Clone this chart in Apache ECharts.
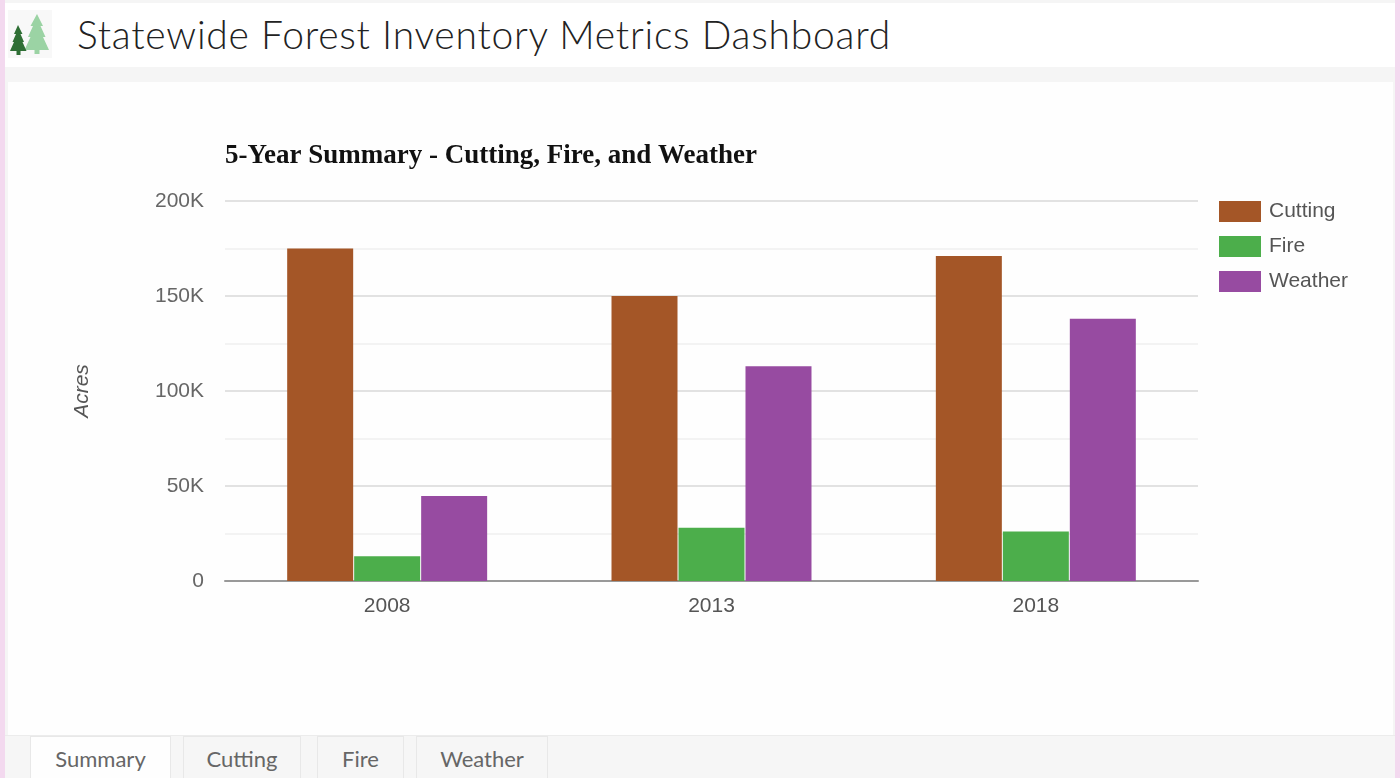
<!DOCTYPE html>
<html><head><meta charset="utf-8">
<script src="https://cdn.jsdelivr.net/npm/echarts@6/dist/echarts.min.js"></script>
<style>
html,body{margin:0;padding:0;width:1400px;height:778px;overflow:hidden;background:#f3d9ef;}
#shell{position:absolute;left:5px;top:0;width:1390px;height:778px;background:#f5f5f5;}
#header{position:absolute;left:0;top:3px;width:1390px;height:64px;background:#fff;}
#logo{position:absolute;left:3px;top:7px;width:44px;height:48px;background:#f8f8f8;}
#headline{position:absolute;left:72px;top:7px;font:300 39px/48px Lato,sans-serif;color:#222;white-space:nowrap;letter-spacing:.76px;}
#panel{position:absolute;left:3px;top:82px;width:1385px;height:653px;background:#fefefe;}
#chart{position:absolute;left:0;top:0;width:1400px;height:778px;}
#tabs{position:absolute;left:0;top:735px;width:1390px;height:43px;background:#f6f6f6;border-top:1px solid #ececec;box-sizing:border-box;}
.tab{position:absolute;top:0;height:43px;box-sizing:border-box;border:1px solid #e8e8e8;border-bottom:none;font:22px/44px Lato,sans-serif;color:#666;text-align:center;background:#f6f6f6;}
.tab.on{background:#fefefe;}
</style></head><body>
<div id="shell">
 <div id="header">
  <div id="logo"><svg width="44" height="48" viewBox="0 0 44 48">
   <path fill="#9bd3a4" d="M29 4l6 12h-2.500l5 11h-2.500l6 13h-9.500v4h-5v-4h-10l6-13h-2.500l5-11h-2.500z"/>
   <path fill="#2f6f35" d="M10 15l4.500 9h-2l3.500 8h-1.500l4 9h-6v4h-4v-4h-6.500l4-9h-1.500l3.500-8h-2z"/>
  </svg></div>
  <div id="headline"></div>
 </div>
 <div id="panel"></div>
 <div id="tabs"></div>
</div>
<div id="chart"></div>
<script>
const pageTitle = 'Statewide Forest Inventory Metrics Dashboard';
const chartTitle = '5-Year Summary - Cutting, Fire, and Weather';
const categories = ['2008', '2013', '2018'];
const cutting = [175000, 150000, 171000];
const fire = [13000, 28000, 26000];
const weather = [44700, 113000, 138000];
const yAxisName = 'Acres';
const tabNames = ['Summary', 'Cutting', 'Fire', 'Weather'];
const tabLefts = [25, 178, 312, 411];
const tabWidths = [141, 118, 87, 132];

document.getElementById('headline').textContent = pageTitle;
const tabs = document.getElementById('tabs');
tabNames.forEach((n, i) => {
  const d = document.createElement('div');
  d.className = 'tab' + (i === 0 ? ' on' : '');
  d.style.left = tabLefts[i] + 'px';
  d.style.width = tabWidths[i] + 'px';
  d.textContent = n;
  tabs.appendChild(d);
});

const chart = echarts.init(document.getElementById('chart'), null, {renderer: 'canvas'});
const mk = (name, data, c) => ({name, type: 'bar', data, barWidth: 66, barGap: '1.500%', itemStyle: {color: c}});
chart.setOption({
  backgroundColor: 'transparent',
  animation: false,
  title: {text: chartTitle, left: 220, top: 138,
    textStyle: {fontFamily: '"Liberation Serif", serif', fontWeight: 'bold', fontSize: 27, color: '#111'}},
  legend: {
    orient: 'vertical', left: 1214, top: 196, itemWidth: 42, itemHeight: 21, itemGap: 14,
    icon: 'rect', data: ['Cutting', 'Fire', 'Weather'],
    textStyle: {fontFamily: '"Liberation Sans", sans-serif', fontSize: 21, color: '#555', padding: [2, 0, 0, 3]}
  },
  grid: {left: 225, right: 202, top: 201, bottom: 197},
  xAxis: {
    type: 'category', data: categories,
    axisLine: {lineStyle: {color: '#999', width: 2}},
    axisTick: {show: false},
    axisLabel: {fontFamily: '"Liberation Sans", sans-serif', fontSize: 21, color: '#555', margin: 15}
  },
  yAxis: {
    type: 'value', min: 0, max: 200000, interval: 50000,
    name: yAxisName, nameLocation: 'middle', nameGap: 132, nameRotate: 90,
    nameTextStyle: {fontFamily: '"Liberation Sans", sans-serif', fontStyle: 'italic', fontSize: 21, color: '#555'},
    axisLine: {show: false}, axisTick: {show: false},
    axisLabel: {fontFamily: '"Liberation Sans", sans-serif', fontSize: 21, color: '#666', margin: 21, padding: [2, 0, 0, 0],
      formatter: v => v === 0 ? '0' : (v / 1000) + 'K'},
    splitLine: {lineStyle: {color: '#d8d8d8', width: 1.500}},
    minorTick: {show: false, splitNumber: 2},
    minorSplitLine: {show: true, lineStyle: {color: '#f0f0f0', width: 1.500}}
  },
  series: [mk('Cutting', cutting, '#a45627'), mk('Fire', fire, '#4cae4b'), mk('Weather', weather, '#974ba1')]
});
</script>
</body></html>
